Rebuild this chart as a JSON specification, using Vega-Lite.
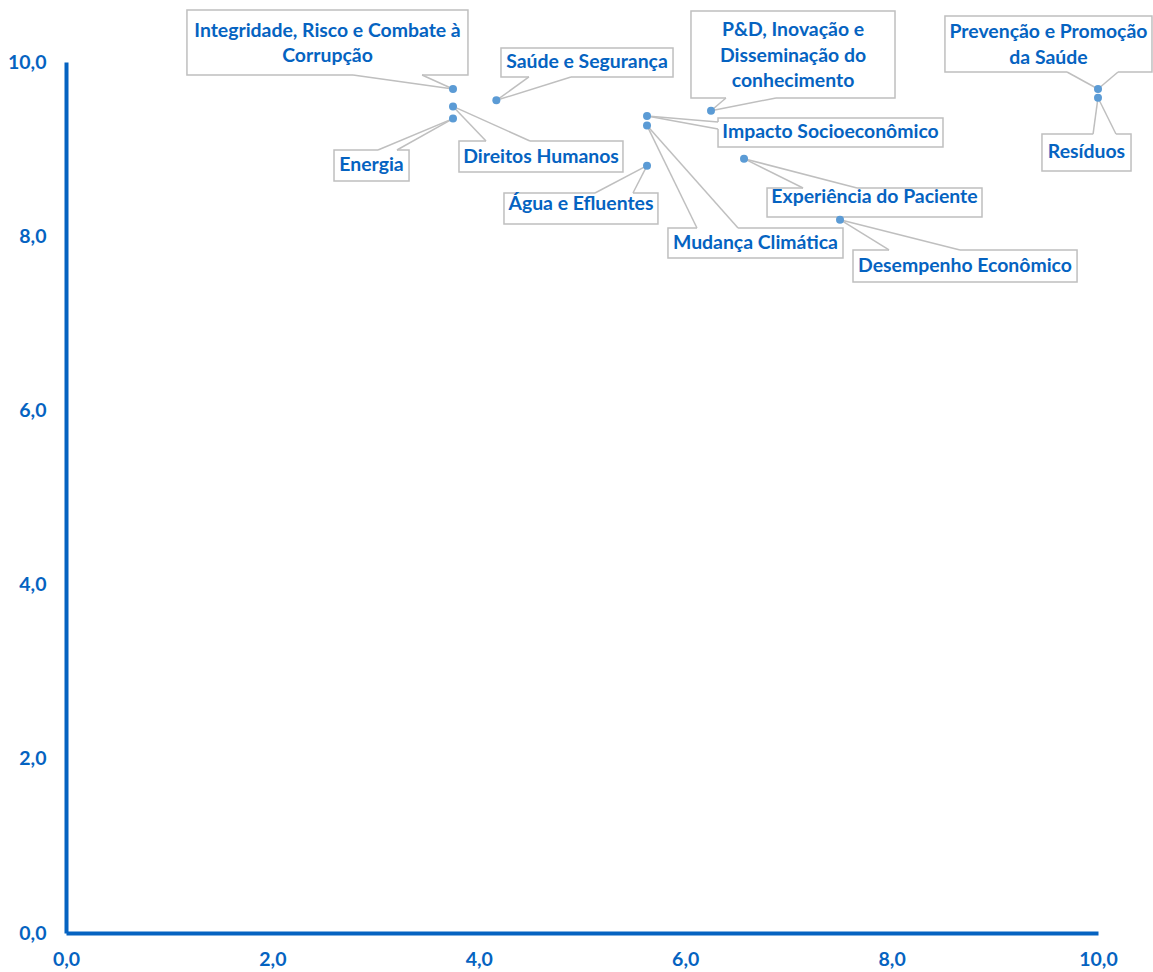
{
  "$schema": "https://vega.github.io/schema/vega-lite/v6.json",
  "width": 1032,
  "height": 871,
  "autosize": {"type": "none"},
  "padding": {"left": 66, "top": 62, "right": 55, "bottom": 39},
  "background": "white",
  "config": {"view": {"stroke": null}, "font": "Lato"},
  "data": {
    "values": [
      {"label": "Integridade, Risco e Combate à\nCorrupção", "x": 3.75, "y": 9.69, "bx1": 1.172, "bx2": 3.895, "by1": 9.851, "by2": 10.597, "tx": 2.534, "ty": 10.356, "w1x": 2.781, "w1y": 9.851, "w2x": 3.45, "w2y": 9.851},
      {"label": "Saúde e Segurança", "x": 4.17, "y": 9.56, "bx1": 4.215, "bx2": 5.882, "by1": 9.828, "by2": 10.161, "tx": 5.048, "ty": 9.995, "w1x": 4.486, "w1y": 9.828, "w2x": 4.893, "w2y": 9.828},
      {"label": "Energia", "x": 3.75, "y": 9.35, "bx1": 2.597, "bx2": 3.324, "by1": 8.634, "by2": 8.99, "tx": 2.96, "ty": 8.812, "w1x": 3.023, "w1y": 8.99, "w2x": 3.207, "w2y": 8.99},
      {"label": "Direitos Humanos", "x": 3.75, "y": 9.49, "bx1": 3.808, "bx2": 5.397, "by1": 8.737, "by2": 9.093, "tx": 4.603, "ty": 8.915, "w1x": 4.07, "w1y": 9.093, "w2x": 4.496, "w2y": 9.093},
      {"label": "Água e Efluentes", "x": 5.63, "y": 8.81, "bx1": 4.244, "bx2": 5.736, "by1": 8.14, "by2": 8.496, "tx": 4.99, "ty": 8.375, "w1x": 5.126, "w1y": 8.496, "w2x": 5.494, "w2y": 8.496},
      {"label": "Impacto Socioeconômico", "x": 5.63, "y": 9.38, "bx1": 6.318, "bx2": 8.498, "by1": 9.024, "by2": 9.357, "tx": 7.408, "ty": 9.191, "w1x": 6.318, "w1y": 9.311, "w2x": 6.318, "w2y": 9.231},
      {"label": "Mudança Climática", "x": 5.63, "y": 9.27, "bx1": 5.833, "bx2": 7.529, "by1": 7.75, "by2": 8.094, "tx": 6.681, "ty": 7.922, "w1x": 6.114, "w1y": 8.094, "w2x": 6.512, "w2y": 8.094},
      {"label": "P&D, Inovação e\nDisseminação do\nconhecimento", "x": 6.25, "y": 9.44, "bx1": 6.056, "bx2": 8.033, "by1": 9.587, "by2": 10.585, "tx": 7.045, "ty": 10.367, "w1x": 6.395, "w1y": 9.587, "w2x": 6.88, "w2y": 9.587},
      {"label": "Experiência do Paciente", "x": 6.57, "y": 8.89, "bx1": 6.793, "bx2": 8.876, "by1": 8.22, "by2": 8.553, "tx": 7.834, "ty": 8.45, "w1x": 7.142, "w1y": 8.553, "w2x": 7.665, "w2y": 8.553},
      {"label": "Desempenho Econômico", "x": 7.5, "y": 8.19, "bx1": 7.626, "bx2": 9.797, "by1": 7.474, "by2": 7.842, "tx": 8.711, "ty": 7.658, "w1x": 7.975, "w1y": 7.842, "w2x": 8.663, "w2y": 7.842},
      {"label": "Prevenção e Promoção\nda Saúde", "x": 10, "y": 9.69, "bx1": 8.517, "bx2": 10.523, "by1": 9.885, "by2": 10.528, "tx": 9.52, "ty": 10.344, "w1x": 9.7, "w1y": 9.885, "w2x": 10.194, "w2y": 9.885},
      {"label": "Resíduos", "x": 10, "y": 9.59, "bx1": 9.457, "bx2": 10.32, "by1": 8.748, "by2": 9.173, "tx": 9.888, "ty": 8.961, "w1x": 9.952, "w1y": 9.173, "w2x": 10.174, "w2y": 9.173}
    ]
  },
  "layer": [
    {
      "mark": {"type": "rect", "fill": "white", "stroke": "#BFBFBF", "strokeWidth": 1.5},
      "encoding": {
        "x": {
          "field": "bx1", "type": "quantitative", "title": null,
          "scale": {"domain": [0, 10], "nice": false, "zero": false},
          "axis": {
            "title": null,
            "values": [0, 2, 4, 6, 8, 10], "grid": false, "ticks": false,
            "domainColor": "#0563C1", "domainWidth": 4,
            "labelColor": "#0563C1", "labelFont": "Lato", "labelFontWeight": "bold", "labelFontSize": 19.5,
            "labelPadding": 17, "labelFlush": false, "labelOverlap": false,
            "labelExpr": "replace(format(datum.value, '.1f'), '.', ',')"
          }
        },
        "x2": {"field": "bx2"},
        "y": {
          "field": "by1", "type": "quantitative", "title": null,
          "scale": {"domain": [0, 10], "nice": false, "zero": false},
          "axis": {
            "title": null,
            "values": [0, 2, 4, 6, 8, 10], "grid": false, "ticks": false,
            "domainColor": "#0563C1", "domainWidth": 4,
            "labelColor": "#0563C1", "labelFont": "Lato", "labelFontWeight": "bold", "labelFontSize": 19.5,
            "labelPadding": 20, "labelFlush": false, "labelOverlap": false,
            "labelExpr": "replace(format(datum.value, '.1f'), '.', ',')"
          }
        },
        "y2": {"field": "by2"}
      }
    },
    {
      "mark": {"type": "rule", "color": "white", "strokeWidth": 3},
      "encoding": {
        "x": {"field": "w1x", "type": "quantitative", "title": null},
        "y": {"field": "w1y", "type": "quantitative", "title": null},
        "x2": {"field": "w2x"},
        "y2": {"field": "w2y"}
      }
    },
    {
      "mark": {"type": "rule", "color": "#BFBFBF", "strokeWidth": 1.5},
      "encoding": {
        "x": {"field": "w1x", "type": "quantitative", "title": null},
        "y": {"field": "w1y", "type": "quantitative", "title": null},
        "x2": {"field": "x"},
        "y2": {"field": "y"}
      }
    },
    {
      "mark": {"type": "rule", "color": "#BFBFBF", "strokeWidth": 1.5},
      "encoding": {
        "x": {"field": "w2x", "type": "quantitative", "title": null},
        "y": {"field": "w2y", "type": "quantitative", "title": null},
        "x2": {"field": "x"},
        "y2": {"field": "y"}
      }
    },
    {
      "mark": {"type": "point", "filled": true, "size": 64, "color": "#5B9BD5", "opacity": 1},
      "encoding": {
        "x": {"field": "x", "type": "quantitative", "title": null},
        "y": {"field": "y", "type": "quantitative", "title": null}
      }
    },
    {
      "mark": {"type": "text", "align": "center", "baseline": "middle", "font": "Lato", "fontWeight": "bold", "fontSize": 19.4, "color": "#0563C1", "lineBreak": "\n", "lineHeight": 25.5},
      "encoding": {
        "x": {"field": "tx", "type": "quantitative", "title": null},
        "y": {"field": "ty", "type": "quantitative", "title": null},
        "text": {"field": "label"}
      }
    }
  ]
}
